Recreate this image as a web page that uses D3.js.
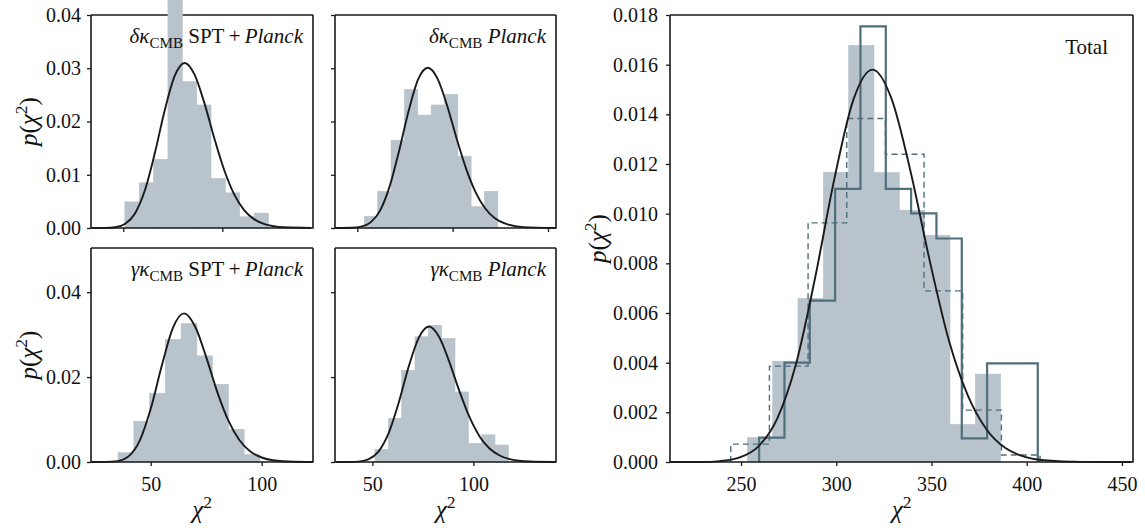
<!DOCTYPE html>
<html><head><meta charset="utf-8">
<script src="https://cdn.jsdelivr.net/npm/d3@7"></script>
<style>
body{margin:0;background:#fff}
svg{display:block}
text{font-family:"Liberation Serif","Times New Roman",serif;fill:#111}
</style></head><body>
<svg id="c" width="1145" height="528"></svg>
<script>
// ---------- data ----------
// delta-kappa SPT+Planck
const dkSptEdges   = [50.8, 58.05, 65.3, 72.55, 79.8, 87.05, 94.3, 101.55, 108.8, 116.05, 123.3];
const dkSptDensity = [0.0049, 0.0085, 0.0129, 0.0435, 0.0275, 0.0231, 0.0093, 0.0066, 0.0021, 0.0028];
const dkSptCurveX  = [34, 41, 46, 51, 56, 61, 66, 71, 76, 81, 86, 91, 96, 101, 106, 111, 116, 121, 126, 131, 145];
const dkSptCurveP  = [0, 0.00002, 0.00015, 0.00079, 0.00278, 0.00717, 0.01417, 0.0222, 0.0286, 0.0310, 0.0288, 0.0234, 0.0168, 0.01085, 0.00632, 0.00337, 0.00167, 0.00076, 0.00032, 0.00013, 0.00001];
// delta-kappa Planck
const dkPlEdges    = [53.7, 60.7, 67.7, 74.7, 81.7, 88.7, 95.7, 102.7, 109.7, 116.7, 123.7];
const dkPlDensity  = [0.0022, 0.0069, 0.0165, 0.0260, 0.0212, 0.0231, 0.0251, 0.0135, 0.0040, 0.0069];
const dkPlCurveX   = [38.5, 47, 52, 57, 62, 67, 72, 77, 82, 87, 92, 97, 102, 107, 112, 117, 122, 127, 137, 154];
const dkPlCurveP   = [0, 0.00004, 0.00025, 0.00106, 0.00332, 0.00786, 0.01462, 0.0221, 0.0280, 0.0301, 0.0281, 0.0231, 0.0169, 0.0112, 0.00675, 0.00371, 0.00189, 0.0009, 0.00017, 0.00001];
// gamma-kappa SPT+Planck
const gkSptEdges   = [35.3, 42.4, 49.5, 56.6, 63.7, 70.8, 77.9, 85.0, 92.1, 99.2];
const gkSptDensity = [0.0022, 0.0096, 0.0162, 0.0289, 0.0326, 0.0250, 0.0183, 0.0077, 0.0018];
const gkSptCurveX  = [23.5, 30, 35, 40, 45, 50, 55, 60, 65, 70, 75, 80, 85, 90, 95, 100, 105, 115, 123];
const gkSptCurveP  = [0, 0.00002, 0.00021, 0.00132, 0.00498, 0.01253, 0.0227, 0.0316, 0.0350, 0.0319, 0.0247, 0.01646, 0.00973, 0.00511, 0.00243, 0.00106, 0.00042, 0.000055, 0.00001];
// gamma-kappa Planck
const gkPlEdges    = [51.3, 57.9, 64.5, 71.1, 77.7, 84.3, 90.9, 97.5, 104.1, 110.7, 117.3];
const gkPlDensity  = [0.0030, 0.0103, 0.0216, 0.0295, 0.0322, 0.0291, 0.0165, 0.0044, 0.0064, 0.0040];
const gkPlCurveX   = [32, 43, 48, 53, 58, 63, 68, 73, 78, 83, 88, 93, 98, 103, 108, 113, 118, 128, 140.5];
const gkPlCurveP   = [0, 0.0001, 0.00062, 0.00244, 0.00673, 0.0139, 0.0225, 0.0293, 0.0319, 0.0295, 0.0237, 0.0168, 0.01066, 0.00608, 0.00317, 0.00153, 0.00068, 0.00011, 0.00001];
// Total
const totalEdges        = [253.3, 266.6, 279.9, 293.2, 306.5, 319.8, 333.1, 346.4, 359.7, 373.0, 386.3];
const totalDensity      = [0.00098, 0.00406, 0.00659, 0.01167, 0.01678, 0.01166, 0.01014, 0.00913, 0.00152, 0.00354];
const totalSolidEdges   = [259.5, 272.8, 286.1, 299.4, 312.7, 326.0, 339.3, 352.6, 365.9, 379.2, 392.5, 405.8];
const totalSolidDensity = [0.00098, 0.00400, 0.00650, 0.01100, 0.01754, 0.01100, 0.01001, 0.00900, 0.00095, 0.00397, 0.00397];
const totalDashEdges    = [244.6, 264.9, 285.2, 305.5, 325.8, 346.1, 366.4, 386.7, 407.0];
const totalDashDensity  = [0.00072, 0.00386, 0.00963, 0.01383, 0.01239, 0.00689, 0.00209, 0.00028];
const totalCurveX = [213, 229, 239, 249, 259, 269, 279, 289, 299, 309, 319, 329, 339, 349, 359, 369, 379, 389, 399, 409, 429, 455];
const totalCurveP = [0, 0.000002, 0.000037, 0.000174, 0.00062, 0.00175, 0.00399, 0.00746, 0.0114, 0.01459, 0.0158, 0.01463, 0.0117, 0.00813, 0.00493, 0.00269, 0.0013, 0.00055, 0.00021, 0.00007, 0.000005, 0];

// ticks
const topYTicks = [0, 0.01, 0.02, 0.03, 0.04];
const topYLabels = ["0.00", "0.01", "0.02", "0.03", "0.04"];
const botYTicks = [0, 0.02, 0.04];
const botYLabels = ["0.00", "0.02", "0.04"];
const tlXTicks = [50, 100];
const tmXTicks = [50, 100, 150];
const blXTicks = [50, 100];
const blXLabels = ["50", "100"];
const bmXTicks = [50, 100];
const bmXLabels = ["50", "100"];
const totXTicks = [250, 300, 350, 400, 450];
const totXLabels = ["250", "300", "350", "400", "450"];
const totYTicks = [0, 0.002, 0.004, 0.006, 0.008, 0.010, 0.012, 0.014, 0.016, 0.018];
const totYLabels = ["0.000", "0.002", "0.004", "0.006", "0.008", "0.010", "0.012", "0.014", "0.016", "0.018"];

// ---------- drawing ----------
const svg = d3.select("#c");
const FILL = "#b8c3cc", STEP = "#4f6f7c", INK = "#1a1a1a";
const TICKF = 20, TITLEF = 21, LABF = 25;

function titleText(g, x, y, parts, size) {
  const t = g.append("text").attr("x", x).attr("y", y).attr("text-anchor", "end").attr("font-size", size);
  let shift = 0;
  parts.forEach(p => {
    const s = t.append("tspan").text(p.t);
    if (p.it) s.attr("font-style", "italic");
    if (p.sub) { s.attr("font-size", size * 0.72).attr("dy", 5); shift = 5; }
    else if (shift) { s.attr("dy", -shift); shift = 0; }
  });
}
function chiLabel(sel) {
  sel.append("tspan").attr("font-style", "italic").text("χ");
  sel.append("tspan").attr("font-size", LABF * 0.7).attr("dy", -10).text("2");
}

function panel(cfg) {
  const [x0, y0, x1, y1] = cfg.box;
  const x = d3.scaleLinear().domain(cfg.xDom).range([x0, x1]);
  const y = d3.scaleLinear().domain(cfg.yDom).range([y1, y0]);
  const g = svg.append("g");
  g.append("line").attr("x1", x0).attr("x2", x1).attr("y1", y0).attr("y2", y0).attr("stroke", INK).attr("stroke-width", 1.6);
  g.append("g").selectAll("rect").data(cfg.dens).join("rect")
    .attr("x", (d, i) => x(cfg.edges[i]))
    .attr("width", (d, i) => x(cfg.edges[i + 1]) - x(cfg.edges[i]))
    .attr("y", d => y(d))
    .attr("height", d => y(0) - y(d))
    .attr("fill", FILL).attr("stroke", FILL).attr("stroke-width", 0.6);
  (cfg.steps || []).forEach(st => {
    const pts = [[st.edges[0], 0]];
    st.dens.forEach((d, i) => { pts.push([st.edges[i], d]); pts.push([st.edges[i + 1], d]); });
    pts.push([st.edges[st.edges.length - 1], 0]);
    g.append("path").attr("d", d3.line().x(p => x(p[0])).y(p => y(p[1]))(pts))
      .attr("fill", "none").attr("stroke", STEP).attr("stroke-width", st.w)
      .attr("stroke-dasharray", st.dash || null);
  });
  g.append("path").attr("d", `M${x0},${y0}V${y1}H${x1}V${y0}`).attr("fill", "none").attr("stroke", INK).attr("stroke-width", 1.6);
  const pts = cfg.cx.map((v, i) => [v, cfg.cy[i]]);
  g.append("path").attr("d", d3.line().x(p => x(p[0])).y(p => y(p[1])).curve(d3.curveMonotoneX)(pts))
    .attr("fill", "none").attr("stroke", INK).attr("stroke-width", 1.9);
  const ax = d3.axisBottom(x).tickValues(cfg.xt).tickSize(4).tickPadding(11)
    .tickFormat((d, i) => cfg.xl ? cfg.xl[i] : "");
  const ay = d3.axisLeft(y).tickValues(cfg.yt).tickSize(4).tickPadding(cfg.ypad)
    .tickFormat((d, i) => cfg.yl ? cfg.yl[i] : "");
  const gx = g.append("g").attr("transform", `translate(0,${y1})`).call(ax);
  const gy = g.append("g").attr("transform", `translate(${x0},0)`).call(ay);
  [gx, gy].forEach(a => {
    a.attr("font-family", null);
    a.select(".domain").remove();
    a.selectAll("line").attr("stroke", INK).attr("stroke-width", 1.3);
    a.selectAll("text").attr("font-size", TICKF).attr("fill", "#111");
  });
  if (cfg.title) titleText(g, cfg.titleX || x1 - 10, cfg.titleY || y0 + 28, cfg.title, TITLEF);
  if (cfg.ylab) {
    const t = g.append("text").attr("transform", `translate(${cfg.ylab[0]},${(y0 + y1) / 2}) rotate(-90)`)
      .attr("text-anchor", "middle").attr("font-size", LABF);
    t.append("tspan").attr("font-style", "italic").text("p");
    t.append("tspan").text("(");
    t.append("tspan").attr("font-style", "italic").text("χ");
    t.append("tspan").attr("font-size", LABF * 0.7).attr("dy", -10).text("2");
    t.append("tspan").attr("dy", 10).text(")");
  }
  if (cfg.xlab) {
    const t = g.append("text").attr("x", (x0 + x1) / 2).attr("y", 518).attr("text-anchor", "middle").attr("font-size", LABF);
    chiLabel(t);
  }
}

panel({box: [91, 15, 313, 228], xDom: [33.7, 145.8], yDom: [0, 0.04], edges: dkSptEdges, dens: dkSptDensity,
  cx: dkSptCurveX, cy: dkSptCurveP, xt: tlXTicks, xl: null, yt: topYTicks, yl: topYLabels, ypad: 6, ylab: [37],
  title: [{t: "δκ", it: true}, {t: "CMB", sub: true}, {t: " SPT\u2009+\u2009"}, {t: "Planck", it: true}]});
panel({box: [335, 15, 556, 228], xDom: [38.3, 154.2], yDom: [0, 0.04], edges: dkPlEdges, dens: dkPlDensity,
  cx: dkPlCurveX, cy: dkPlCurveP, xt: tmXTicks, xl: null, yt: topYTicks, yl: null, ypad: 6,
  title: [{t: "δκ", it: true}, {t: "CMB", sub: true}, {t: " "}, {t: "Planck", it: true}]});
panel({box: [91, 248, 313, 462], xDom: [23.1, 123.1], yDom: [0, 0.0504], edges: gkSptEdges, dens: gkSptDensity,
  cx: gkSptCurveX, cy: gkSptCurveP, xt: blXTicks, xl: blXLabels, yt: botYTicks, yl: botYLabels, ypad: 6, ylab: [37], xlab: true,
  title: [{t: "γκ", it: true}, {t: "CMB", sub: true}, {t: " SPT\u2009+\u2009"}, {t: "Planck", it: true}]});
panel({box: [335, 248, 556, 462], xDom: [31.5, 140.9], yDom: [0, 0.0504], edges: gkPlEdges, dens: gkPlDensity,
  cx: gkPlCurveX, cy: gkPlCurveP, xt: bmXTicks, xl: bmXLabels, yt: botYTicks, yl: null, ypad: 6, xlab: true,
  title: [{t: "γκ", it: true}, {t: "CMB", sub: true}, {t: " "}, {t: "Planck", it: true}]});
panel({box: [670, 15, 1133, 462], xDom: [212.7, 455.8], yDom: [0, 0.018], edges: totalEdges, dens: totalDensity,
  steps: [{edges: totalDashEdges, dens: totalDashDensity, w: 1.4, dash: "6,4"},
          {edges: totalSolidEdges, dens: totalSolidDensity, w: 2.2}],
  cx: totalCurveX, cy: totalCurveP, xt: totXTicks, xl: totXLabels, yt: totYTicks, yl: totYLabels, ypad: 8, ylab: [606], xlab: true,
  title: [{t: "Total"}], titleX: 1108, titleY: 54});
</script></body></html>
